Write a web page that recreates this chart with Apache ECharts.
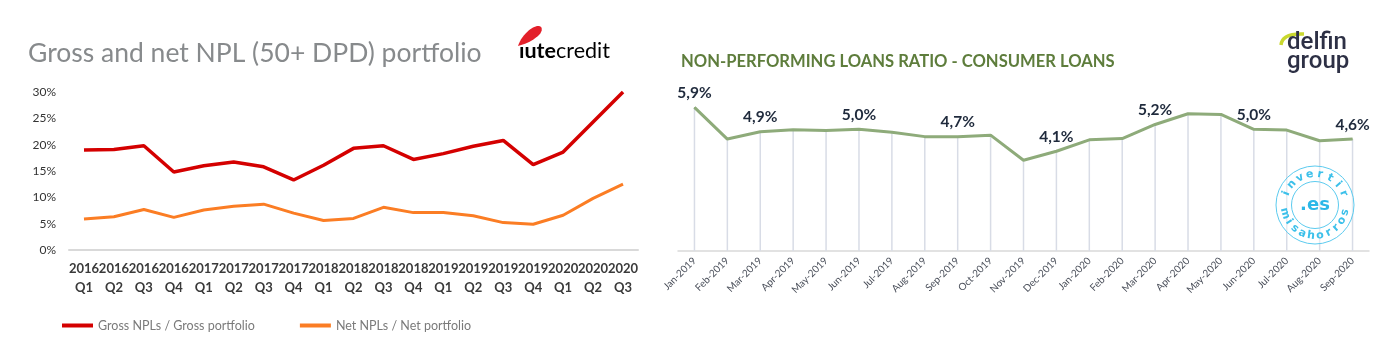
<!DOCTYPE html>
<html>
<head>
<meta charset="utf-8">
<script src="https://cdn.jsdelivr.net/npm/echarts@6/dist/echarts.min.js"></script>
<style>
html,body{margin:0;padding:0;background:#fff;}
#c{width:1384px;height:364px;}
</style>
</head>
<body>
<div id="c"></div>
<script>
// ---- Left chart data (IuteCredit) ----
const quarterYears = ['2016','2016','2016','2016','2017','2017','2017','2017','2018','2018','2018','2018','2019','2019','2019','2019','2020','2020','2020'];
const quarterNames = ['Q1','Q2','Q3','Q4','Q1','Q2','Q3','Q4','Q1','Q2','Q3','Q4','Q1','Q2','Q3','Q4','Q1','Q2','Q3'];
const grossNPL = [19.0, 19.1, 19.8, 14.8, 16.0, 16.7, 15.8, 13.3, 16.1, 19.3, 19.8, 17.2, 18.3, 19.7, 20.8, 16.2, 18.6, 24.3, 30.0];
const netNPL   = [5.9, 6.3, 7.7, 6.2, 7.6, 8.3, 8.7, 7.0, 5.6, 6.0, 8.1, 7.1, 7.1, 6.5, 5.2, 4.9, 6.6, 9.8, 12.5];
const leftTicks = [0, 5, 10, 15, 20, 25, 30];

// ---- Right chart data (Delfin group) ----
const months = ['Jan-2019','Feb-2019','Mar-2019','Apr-2019','May-2019','Jun-2019','Jul-2019','Aug-2019','Sep-2019','Oct-2019','Nov-2019','Dec-2019','Jan-2020','Feb-2020','Mar-2020','Apr-2020','May-2020','Jun-2020','Jul-2020','Aug-2020','Sep-2020'];
const nplRatio = [5.9, 4.6, 4.9, 4.98, 4.95, 5.0, 4.88, 4.7, 4.7, 4.76, 3.73, 4.1, 4.57, 4.62, 5.2, 5.64, 5.61, 5.0, 4.97, 4.53, 4.6];
const labeledMonths = ['Jan-2019','Mar-2019','Jun-2019','Sep-2019','Dec-2019','Mar-2020','Jun-2020','Sep-2020'];

const chart = echarts.init(document.getElementById('c'), null, {renderer: 'canvas'});

const FONT = 'Lato, "Open Sans", sans-serif';

// sample a cubic bezier into points (for decorative logo shapes)
function bez(p0, p1, p2, p3, n) {
  const pts = [];
  for (let i = 0; i <= n; i++) {
    const t = i / n, u = 1 - t;
    pts.push([
      u*u*u*p0[0] + 3*u*u*t*p1[0] + 3*u*t*t*p2[0] + t*t*t*p3[0],
      u*u*u*p0[1] + 3*u*u*t*p1[1] + 3*u*t*t*p2[1] + t*t*t*p3[1]
    ]);
  }
  return pts;
}
const leafPts = bez([518,46],[521,37],[529,28],[537,26],12)
  .concat(bez([537,26],[543,25],[543,31],[539,35],8).slice(1))
  .concat(bez([539,35],[534,40],[526,44],[518,46],10).slice(1));

// watermark (decorative) letters along arcs
const wmCx = 1315, wmCy = 205, wmR = 31;
const wm = [];
function arcText(str, startDeg, endDeg, top) {
  const n = str.length;
  for (let i = 0; i < n; i++) {
    const deg = startDeg + (endDeg - startDeg) * (n === 1 ? 0 : i / (n - 1));
    const rad = deg * Math.PI / 180;
    const rot = top ? (deg - 90) : (deg - 270);
    wm.push({
      type: 'text', x: wmCx + wmR * Math.cos(rad), y: wmCy - wmR * Math.sin(rad),
      rotation: rot * Math.PI / 180, z: 10,
      style: {text: str[i], fill: '#3cc0ea', font: 'bold 11px "DejaVu Sans", sans-serif',
        textAlign: 'center', textVerticalAlign: 'middle'}
    });
  }
}
arcText('invertir', 158, 22, true);
arcText('misahorros', 196, 346, false);

const option = {
  animation: false,
  backgroundColor: '#ffffff',
  textStyle: {fontFamily: FONT},
  title: [
    {text: 'Gross and net NPL (50+ DPD) portfolio', left: 23, top: 35,
     textStyle: {fontFamily: FONT, fontSize: 26.5, fontWeight: 'normal', color: '#878a8c'}},
    {text: 'NON-PERFORMING LOANS RATIO - CONSUMER LOANS', left: 676, top: 48,
     textStyle: {fontFamily: FONT, fontSize: 16.6, fontWeight: 'bold', color: '#5e7d3c'}}
  ],
  legend: {
    data: ['Gross NPLs / Gross portfolio', 'Net NPLs / Net portfolio'],
    left: 57, top: 314, itemWidth: 31, itemHeight: 4, itemGap: 45,
    icon: 'rect',
    textStyle: {fontFamily: FONT, fontSize: 12.5, color: '#7a7a7a'}
  },
  grid: [
    {left: 69, top: 92, width: 569, height: 158},
    {left: 678, top: 105, width: 691, height: 146}
  ],
  xAxis: [
    {type: 'category', gridIndex: 0, data: quarterYears.map((y, i) => y + '\n' + quarterNames[i]),
     boundaryGap: true,
     axisLine: {show: true, lineStyle: {color: '#d9d9d9', width: 2}},
     axisTick: {show: false},
     axisLabel: {interval: 0, margin: 9, fontFamily: FONT, fontSize: 13, fontWeight: 'bold', color: '#3a3a3a', lineHeight: 19}},
    {type: 'category', gridIndex: 1, data: months, boundaryGap: true,
     axisLine: {show: true, lineStyle: {color: '#d9d9d9', width: 1.5}},
     axisTick: {show: false},
     axisLabel: {interval: 0, rotate: 45, margin: 8, fontFamily: FONT, fontSize: 10, color: '#4a4f5a'}}
  ],
  yAxis: [
    {type: 'value', gridIndex: 0, min: 0, max: 30, interval: 5,
     axisLine: {show: false}, axisTick: {show: false}, splitLine: {show: false},
     axisLabel: {margin: 13, fontFamily: FONT, fontSize: 12, color: '#333', formatter: v => v + '%'}},
    {type: 'value', gridIndex: 1, min: 0, max: 6, show: false, splitLine: {show: false}}
  ],
  series: [
    {name: 'Gross NPLs / Gross portfolio', type: 'line', xAxisIndex: 0, yAxisIndex: 0,
     data: grossNPL, symbol: 'none', color: '#d40000', lineStyle: {width: 3.5, color: '#d40000'}},
    {name: 'Net NPLs / Net portfolio', type: 'line', xAxisIndex: 0, yAxisIndex: 0,
     data: netNPL, symbol: 'none', color: '#fb7d24', lineStyle: {width: 3, color: '#fb7d24'}},
    {name: 'drop', type: 'bar', xAxisIndex: 1, yAxisIndex: 1, data: nplRatio,
     barWidth: 1.5, itemStyle: {color: '#d8dce6'}, z: 1, silent: true},
    {name: 'NPL ratio', type: 'line', xAxisIndex: 1, yAxisIndex: 1, z: 3,
     data: nplRatio, showSymbol: true, symbol: 'circle', symbolSize: 1,
     itemStyle: {color: '#8eab7a'},
     lineStyle: {width: 3, color: '#8eab7a'},
     label: {show: true, position: 'top', distance: 6, fontFamily: FONT, fontSize: 15.5, fontWeight: 'bold', color: '#1f2a3c',
       formatter: p => labeledMonths.indexOf(p.name) >= 0 ? p.value.toFixed(1).replace('.', ',') + '%' : ''}}
  ],
  graphic: [
    // iutecredit logo
    {type: 'polygon', shape: {points: leafPts}, style: {fill: '#e3202a'}},
    {type: 'text', x: 519, y: 40,
     style: {text: '{a|ıute}{b|credit}', rich: {
       a: {fontFamily: FONT, fontSize: 21.5, fontWeight: 'bold', color: '#111'},
       b: {fontFamily: FONT, fontSize: 21.5, fontWeight: 'normal', color: '#111'}}}},
    // delfin group logo
    {type: 'bezierCurve', shape: {x1: 1281, y1: 45, x2: 1304, y2: 34, cpx1: 1282, cpy1: 33},
     style: {fill: 'none', stroke: '#c9d82e', lineWidth: 3.5}},
    {type: 'text', x: 1287, y: 31,
     style: {text: 'delfin', fill: '#2d3045', font: '500 24px Roboto, sans-serif'}},
    {type: 'text', x: 1287, y: 50,
     style: {text: 'group', fill: '#2d3045', font: '500 24px Roboto, sans-serif'}},
    // watermark
    {type: 'circle', shape: {cx: wmCx, cy: wmCy, r: 39}, style: {fill: 'rgba(255,255,255,0.4)', stroke: '#5ccbef', lineWidth: 1}, z: 9},
    {type: 'circle', shape: {cx: wmCx, cy: wmCy, r: 23.5}, style: {fill: 'none', stroke: '#5ccbef', lineWidth: 1}, z: 9},
    {type: 'text', x: wmCx, y: wmCy, z: 10,
     style: {text: '.es', fill: '#2cb8e8', font: 'bold 18px "DejaVu Sans", sans-serif',
       textAlign: 'center', textVerticalAlign: 'middle'}}
  ].concat(wm)
};
chart.setOption(option);
</script>
</body>
</html>
